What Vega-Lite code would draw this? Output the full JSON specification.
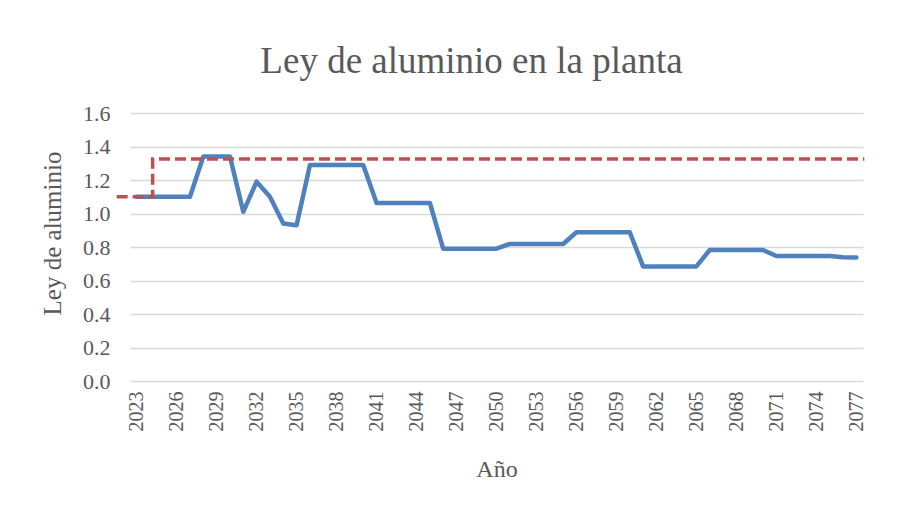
{
  "$schema": "https://vega.github.io/schema/vega-lite/v6.json",
  "width": 733,
  "height": 268,
  "autosize": {"type": "none"},
  "padding": {"left": 130, "top": 113, "right": 59, "bottom": 127},
  "background": "white",
  "config": {"view": {"stroke": null}, "font": "Liberation Serif"},
  "title": {
    "text": "Ley de aluminio en la planta",
    "font": "Liberation Serif",
    "fontSize": 37,
    "fontWeight": "normal",
    "color": "#595959",
    "anchor": "middle",
    "dx": -25,
    "offset": 21
  },
  "datasets": {
    "ley": [
      {"year": 2023, "ley": 1.10}, {"year": 2024, "ley": 1.10}, {"year": 2025, "ley": 1.10},
      {"year": 2026, "ley": 1.10}, {"year": 2027, "ley": 1.10}, {"year": 2028, "ley": 1.34},
      {"year": 2029, "ley": 1.34}, {"year": 2030, "ley": 1.34}, {"year": 2031, "ley": 1.01},
      {"year": 2032, "ley": 1.19}, {"year": 2033, "ley": 1.10}, {"year": 2034, "ley": 0.94},
      {"year": 2035, "ley": 0.93}, {"year": 2036, "ley": 1.29}, {"year": 2037, "ley": 1.29},
      {"year": 2038, "ley": 1.29}, {"year": 2039, "ley": 1.29}, {"year": 2040, "ley": 1.29},
      {"year": 2041, "ley": 1.063}, {"year": 2042, "ley": 1.063}, {"year": 2043, "ley": 1.063},
      {"year": 2044, "ley": 1.063}, {"year": 2045, "ley": 1.063}, {"year": 2046, "ley": 0.79},
      {"year": 2047, "ley": 0.79}, {"year": 2048, "ley": 0.79}, {"year": 2049, "ley": 0.79},
      {"year": 2050, "ley": 0.79}, {"year": 2051, "ley": 0.818}, {"year": 2052, "ley": 0.818},
      {"year": 2053, "ley": 0.818}, {"year": 2054, "ley": 0.818}, {"year": 2055, "ley": 0.818},
      {"year": 2056, "ley": 0.888}, {"year": 2057, "ley": 0.888}, {"year": 2058, "ley": 0.888},
      {"year": 2059, "ley": 0.888}, {"year": 2060, "ley": 0.888}, {"year": 2061, "ley": 0.684},
      {"year": 2062, "ley": 0.684}, {"year": 2063, "ley": 0.684}, {"year": 2064, "ley": 0.684},
      {"year": 2065, "ley": 0.684}, {"year": 2066, "ley": 0.782}, {"year": 2067, "ley": 0.782},
      {"year": 2068, "ley": 0.782}, {"year": 2069, "ley": 0.782}, {"year": 2070, "ley": 0.782},
      {"year": 2071, "ley": 0.746}, {"year": 2072, "ley": 0.746}, {"year": 2073, "ley": 0.746},
      {"year": 2074, "ley": 0.746}, {"year": 2075, "ley": 0.746}, {"year": 2076, "ley": 0.739},
      {"year": 2077, "ley": 0.738}
    ],
    "limite": [
      {"year": 2021.5, "ley": 1.10, "ord": 1},
      {"year": 2024.2, "ley": 1.10, "ord": 2},
      {"year": 2024.2, "ley": 1.325, "ord": 3},
      {"year": 2077.6, "ley": 1.325, "ord": 4}
    ]
  },
  "encoding": {
    "x": {
      "field": "year",
      "type": "quantitative",
      "scale": {"domain": [2022.5, 2077.5], "nice": false, "zero": false},
      "axis": {
        "title": "Año",
        "values": [2023, 2026, 2029, 2032, 2035, 2038, 2041, 2044, 2047, 2050, 2053, 2056, 2059, 2062, 2065, 2068, 2071, 2074, 2077],
        "format": "d",
        "labelAngle": -90,
        "labelFontSize": 20,
        "labelColor": "#595959",
        "labelPadding": 10,
        "grid": false,
        "ticks": false,
        "domain": false,
        "titleFontSize": 24,
        "titleFontWeight": "normal",
        "titleColor": "#595959",
        "titleBaseline": "alphabetic",
        "titleY": 95
      }
    },
    "y": {
      "field": "ley",
      "type": "quantitative",
      "scale": {"domain": [0, 1.6], "nice": false},
      "axis": {
        "title": "Ley de aluminio",
        "values": [0, 0.2, 0.4, 0.6, 0.8, 1.0, 1.2, 1.4, 1.6],
        "format": ".1f",
        "labelFontSize": 22,
        "labelColor": "#595959",
        "labelPadding": 20,
        "ticks": false,
        "domain": false,
        "grid": true,
        "gridColor": "#D9D9D9",
        "gridWidth": 1.3,
        "titleFontSize": 25,
        "titleFontWeight": "normal",
        "titleColor": "#595959",
        "titleAngle": -90,
        "titleAlign": "center",
        "titleBaseline": "alphabetic",
        "titleX": -70,
        "titleY": 120
      }
    }
  },
  "layer": [
    {
      "data": {"name": "ley"},
      "mark": {"type": "line", "color": "#4F81BD", "strokeWidth": 4.5, "strokeJoin": "round", "strokeCap": "round", "clip": false}
    },
    {
      "data": {"name": "limite"},
      "mark": {"type": "line", "color": "#C0504D", "strokeWidth": 3.5, "strokeDash": [11, 5], "clip": false},
      "encoding": {"order": {"field": "ord", "type": "quantitative"}}
    }
  ]
}
